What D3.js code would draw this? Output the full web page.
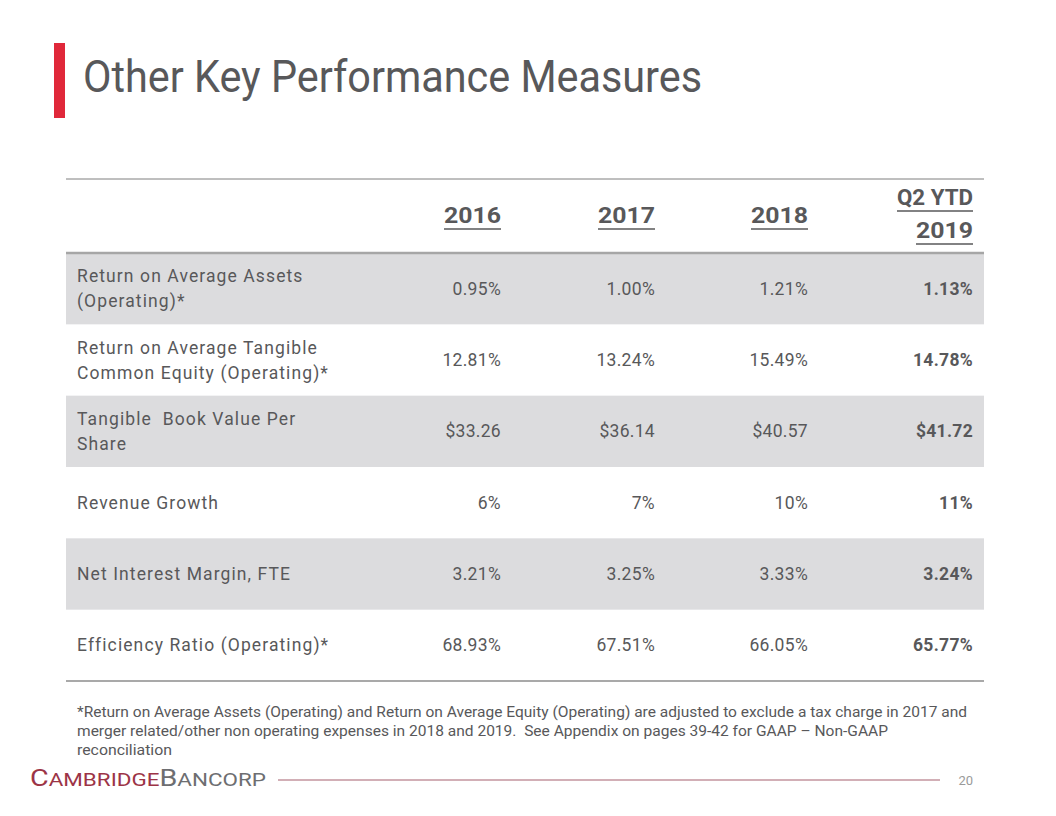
<!DOCTYPE html>
<html>
<head>
<meta charset="utf-8">
<script src="https://cdn.jsdelivr.net/npm/d3@7/dist/d3.min.js"></script>
<style>
  html, body { margin: 0; padding: 0; background: #ffffff; }
  svg { display: block; }
  text { font-family: Roboto, "Noto Sans", sans-serif; }
</style>
</head>
<body>
<svg id="chart" width="1056" height="816"></svg>
<script>
// ---- data ----
const title = "Other Key Performance Measures";
const columns = ["2016", "2017", "2018", "Q2 YTD 2019"];
const columnHeaderLines = [["2016"], ["2017"], ["2018"], ["Q2 YTD", "2019"]];
const rowLabels = [
  ["Return on Average Assets", "(Operating)*"],
  ["Return on Average Tangible", "Common Equity (Operating)*"],
  ["Tangible  Book Value Per", "Share"],
  ["Revenue Growth"],
  ["Net Interest Margin, FTE"],
  ["Efficiency Ratio (Operating)*"]
];
const values2016 = ["0.95%", "12.81%", "$33.26", "6%", "3.21%", "68.93%"];
const values2017 = ["1.00%", "13.24%", "$36.14", "7%", "3.25%", "67.51%"];
const values2018 = ["1.21%", "15.49%", "$40.57", "10%", "3.33%", "66.05%"];
const valuesQ2YTD2019 = ["1.13%", "14.78%", "$41.72", "11%", "3.24%", "65.77%"];
const footnoteLines = [
  "*Return on Average Assets (Operating) and Return on Average Equity (Operating) are adjusted to exclude a tax charge in 2017 and",
  "merger related/other non operating expenses in 2018 and 2019.  See Appendix on pages 39-42 for GAAP \u2013 Non-GAAP",
  "reconciliation"
];
const pageNumber = "20";

// ---- layout ----
const svg = d3.select("#chart");
const textColor = "#58585a";
const tableLeft = 66, tableRight = 984;
const tableTop = 179, headerBottom = 253, tableBottom = 681;

const valueCols = [values2016, values2017, values2018, valuesQ2YTD2019];

// title bar + title
svg.append("rect").attr("x", 54).attr("y", 43).attr("width", 11).attr("height", 75).attr("fill", "#e0283a");
svg.append("text").attr("x", 83).attr("y", 92)
  .attr("font-size", 44).attr("fill", textColor)
  .attr("textLength", 619).attr("lengthAdjust", "spacingAndGlyphs")
  .text(title);

// scales
const y = d3.scaleBand().domain(d3.range(rowLabels.length)).range([headerBottom, tableBottom]).padding(0);
const xRight = d3.scaleOrdinal().domain(columns).range([501, 655, 808, 973]);

// zebra rows
svg.append("g").selectAll("rect")
  .data(d3.range(rowLabels.length).filter(i => i % 2 === 0))
  .join("rect")
  .attr("x", tableLeft).attr("width", tableRight - tableLeft)
  .attr("y", i => y(i)).attr("height", y.bandwidth())
  .attr("fill", "#dcdcde");

// rules
svg.append("line").attr("x1", tableLeft).attr("x2", tableRight).attr("y1", tableTop).attr("y2", tableTop)
  .attr("stroke", "#7f7f7f").attr("stroke-width", 1);
svg.append("line").attr("x1", tableLeft).attr("x2", tableRight).attr("y1", headerBottom).attr("y2", headerBottom)
  .attr("stroke", "#a6a6a6").attr("stroke-width", 2.5);
svg.append("line").attr("x1", tableLeft).attr("x2", tableRight).attr("y1", tableBottom).attr("y2", tableBottom)
  .attr("stroke", "#8c8c8c").attr("stroke-width", 1.5);

// headers
const hdr = svg.append("g");
columns.forEach((c, ci) => {
  const lines = columnHeaderLines[ci];
  const lineH = 33;
  const lastBase = 223 + (lines.length > 1 ? 15 : 0);
  lines.forEach((ln, li) => {
    const base = lastBase - (lines.length - 1 - li) * lineH;
    const t = hdr.append("text")
      .attr("x", xRight(c)).attr("y", base)
      .attr("text-anchor", "end")
      .attr("font-size", 22).attr("font-weight", "bold")
      .attr("fill", textColor)
      .text(ln);
    const natural = t.node().getComputedTextLength();
    const target = ln.length === 4 ? 57 : 76;
    t.attr("textLength", target).attr("lengthAdjust", "spacingAndGlyphs");
    hdr.append("line")
      .attr("x1", xRight(c) - target).attr("x2", xRight(c))
      .attr("y1", base + 6).attr("y2", base + 6)
      .attr("stroke", textColor).attr("stroke-width", 1.5);
  });
});

// row labels
const rows = svg.append("g");
rowLabels.forEach((lines, i) => {
  const cy = y(i) + y.bandwidth() / 2;
  const lh = 25;
  lines.forEach((ln, li) => {
    rows.append("text")
      .attr("x", 77)
      .attr("y", cy + 6 + (li - (lines.length - 1) / 2) * lh)
      .attr("font-size", 17.5).attr("fill", textColor)
      .attr("letter-spacing", 1.1)
      .style("white-space", "pre")
      .text(ln);
  });
});

// values
columns.forEach((c, ci) => {
  valueCols[ci].forEach((v, i) => {
    rows.append("text")
      .attr("x", xRight(c)).attr("y", y(i) + y.bandwidth() / 2 + 6)
      .attr("text-anchor", "end")
      .attr("font-size", 17.5)
      .attr("font-weight", ci === 3 ? "bold" : "normal")
      .attr("letter-spacing", 0.3)
      .attr("fill", textColor)
      .text(v);
  });
});

// footnote
const fnWidths = [890, 811, 95];
footnoteLines.forEach((ln, i) => {
  svg.append("text").attr("x", 77).attr("y", 717 + i * 19)
    .attr("font-size", 14.5).attr("fill", textColor)
    .attr("textLength", fnWidths[i]).attr("lengthAdjust", "spacingAndGlyphs")
    .style("white-space", "pre")
    .text(ln);
});

// logo
const logo = svg.append("text").attr("x", 30).attr("y", 786)
  .attr("font-family", "'Liberation Serif', 'DejaVu Serif', serif")
  .attr("font-size", 23)
  .attr("textLength", 236).attr("lengthAdjust", "spacingAndGlyphs");
logo.append("tspan").attr("fill", "#9c3446").text("C");
logo.append("tspan").attr("fill", "#9c3446").attr("font-size", 18).text("AMBRIDGE");
logo.append("tspan").attr("fill", "#6d6e71").text("B");
logo.append("tspan").attr("fill", "#6d6e71").attr("font-size", 18).text("ANCORP");

svg.append("line").attr("x1", 278).attr("x2", 940).attr("y1", 780).attr("y2", 780)
  .attr("stroke", "#a5606e").attr("stroke-width", 1.2);
svg.append("text").attr("x", 973).attr("y", 785).attr("text-anchor", "end")
  .attr("font-size", 13).attr("fill", "#9a9a9a").text(pageNumber);
</script>
</body>
</html>
